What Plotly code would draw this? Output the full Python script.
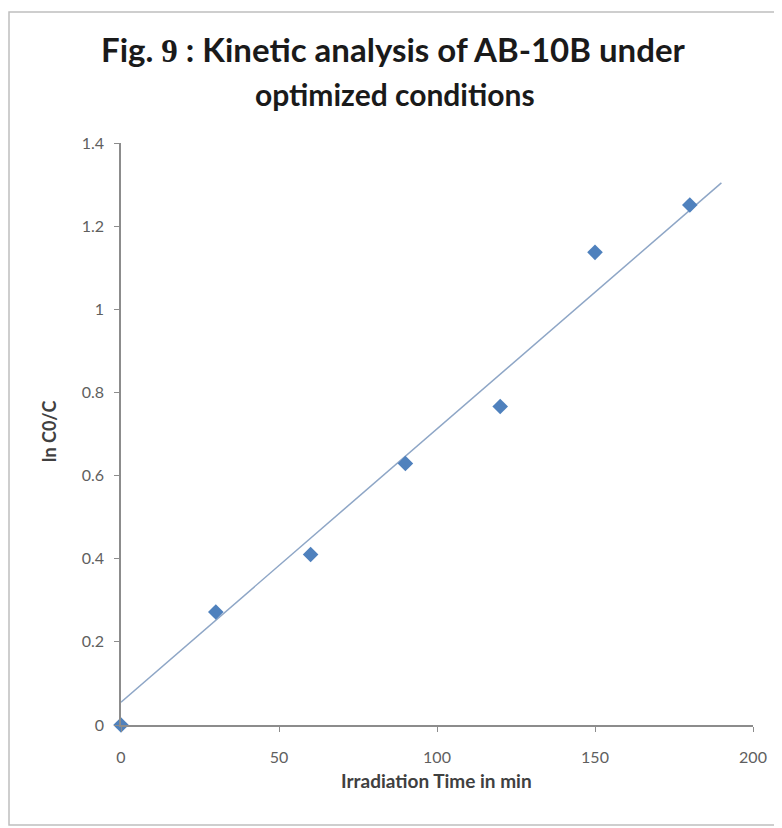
import plotly.graph_objects as go

# Data
time_min = [0, 30, 60, 90, 120, 150, 180]
ln_c0_c = [0.0, 0.272, 0.41, 0.629, 0.766, 1.137, 1.251]

# Linear trend line (as drawn in the reference)
trend_x = [0, 190]
trend_y = [0.055, 1.304]

x_ticks = [0, 50, 100, 150, 200]
y_ticks = [0, 0.2, 0.4, 0.6, 0.8, 1.0, 1.2, 1.4]
y_tick_labels = ["0", "0.2", "0.4", "0.6", "0.8", "1", "1.2", "1.4"]

title_line1 = 'Fig. <span style="font-family:\'Liberation Serif\'">9</span> : Kinetic analysis of AB-10B under'
title_line2 = "optimized conditions"
x_title = "Irradiation Time in min"
y_title = "ln C0/C"

# page body has an 8px margin; work in reference pixel coordinates
OFF = 8
PL, PR, PT, PB = 121, 753, 143, 725   # plot area in reference pixels
W, H = 782 - OFF, 828 - OFF
pw = PR - PL
ph = PB - PT

def px(xp):
    return (xp - PL) / pw

def py(yp):
    return (PB - yp) / ph

fig = go.Figure()
fig.add_trace(go.Scatter(
    x=trend_x, y=trend_y, mode="lines",
    line=dict(color="#8EA6C6", width=1.5),
    hoverinfo="skip", showlegend=False, cliponaxis=False,
))
fig.add_trace(go.Scatter(
    x=time_min, y=ln_c0_c, mode="markers",
    marker=dict(symbol="diamond", size=12, color="#4F81BD"),
    showlegend=False, cliponaxis=False,
))

tickfont = dict(size=16, color="#5f5f5f", family="Lato")

fig.update_layout(
    width=W, height=H,
    margin=dict(l=PL - OFF, r=W - (PR - OFF), t=PT - OFF, b=H - (PB - OFF), autoexpand=False),
    paper_bgcolor="white", plot_bgcolor="white",
    font=dict(family="Lato", color="#595959"),
    xaxis=dict(
        range=[0, 200], tickvals=x_ticks, ticktext=[str(v) for v in x_ticks],
        showgrid=False, zeroline=False, showline=True, linecolor="#8C8C8C", linewidth=1.5,
        ticks="outside", ticklen=5, tickcolor="#8C8C8C",
        tickfont=tickfont, ticklabelstandoff=12,
        fixedrange=True,
    ),
    yaxis=dict(
        range=[0, 1.4], tickvals=y_ticks, ticktext=y_tick_labels,
        showgrid=False, zeroline=False, showline=True, linecolor="#8C8C8C", linewidth=1.5,
        ticks="outside", ticklen=5, tickcolor="#8C8C8C",
        tickfont=tickfont, ticklabelstandoff=7,
        fixedrange=True,
    ),
    shapes=[dict(
        type="rect", xref="paper", yref="paper",
        x0=px(9), x1=px(800), y0=py(825), y1=py(12),
        line=dict(color="#BFBFBF", width=1.5), fillcolor="rgba(0,0,0,0)", layer="below",
    )],
    annotations=[
        dict(text=title_line1, xref="paper", yref="paper", x=px(393), y=py(49),
             xanchor="center", yanchor="middle", showarrow=False,
             font=dict(family="Lato", size=33, color="#1a1a1a", weight="bold")),
        dict(text=title_line2, xref="paper", yref="paper", x=px(395), y=py(94),
             xanchor="center", yanchor="middle", showarrow=False,
             font=dict(family="Lato", size=30, color="#1a1a1a", weight="bold")),
        dict(text=x_title, xref="paper", yref="paper", x=px(436), y=py(780),
             xanchor="center", yanchor="middle", showarrow=False,
             font=dict(family="Lato", size=19, color="#404040", weight="bold")),
        dict(text=y_title, xref="paper", yref="paper", x=px(49), y=py(431),
             xanchor="center", yanchor="middle", showarrow=False, textangle=-90,
             font=dict(family="Lato", size=18, color="#404040", weight="bold")),
    ],
)

fig.write_html("out.html")
